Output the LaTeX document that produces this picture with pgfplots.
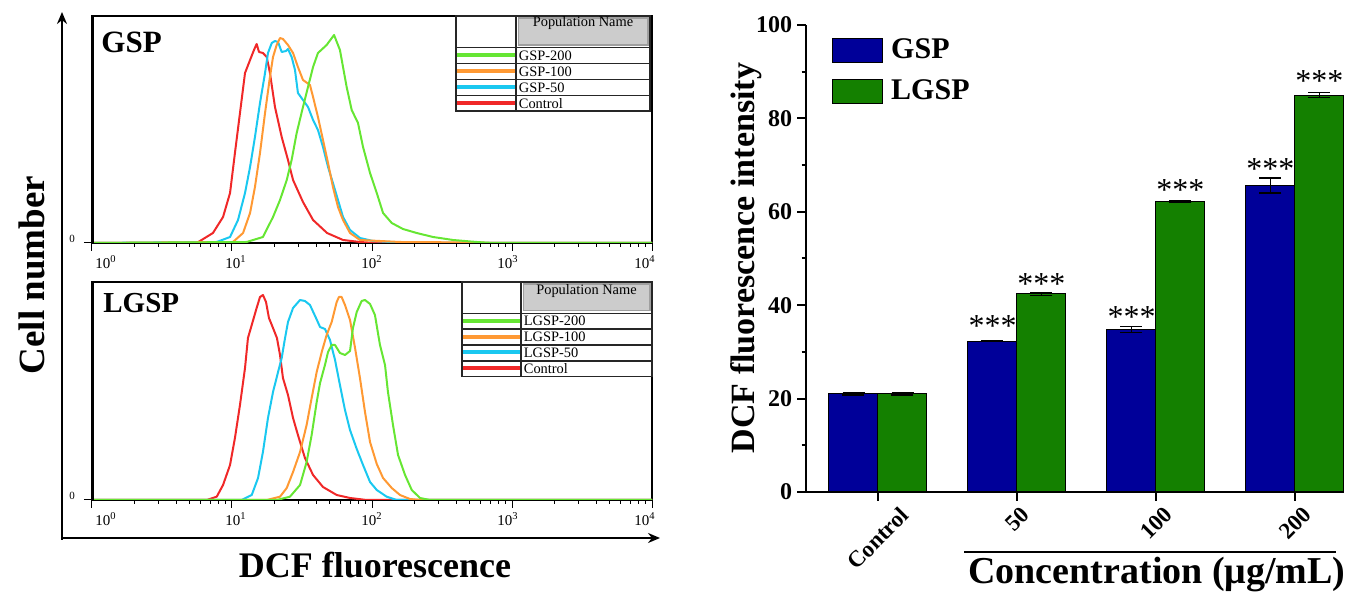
\documentclass[border=0pt]{standalone}
\usepackage{fontspec}
\setmainfont{Liberation Serif}
\usepackage{graphicx}
\usepackage{pgfplots}
\pgfplotsset{compat=1.18}
\usepackage{pgfplotstable}
\usetikzlibrary{arrows.meta}

\definecolor{hgreen}{RGB}{102,230,51}
\definecolor{horange}{RGB}{255,153,51}
\definecolor{hcyan}{RGB}{26,200,240}
\definecolor{hred}{RGB}{240,40,40}
\definecolor{gspblue}{RGB}{0,0,153}
\definecolor{lgspgreen}{RGB}{20,128,0}

% histograms: lx = log10(DCF fluorescence), h = cell count (pixel height of frame)
% --- GSP panel
\pgfplotstableread{
lx h
0 0
0.748 0
0.864 10
0.936 26
0.986 50
1.021 90
1.057 130
1.093 170
1.129 183
1.157 193
1.176 199
1.193 191
1.221 190
1.248 186
1.271 170
1.307 136
1.355 106
1.400 83
1.436 63
1.507 41
1.579 23
1.679 10
1.793 3
1.914 1
2.020 0
4 0
}\gctrl
\pgfplotstableread{
lx h
0 0
0.891 1
0.986 6
1.043 23
1.093 50
1.129 76
1.164 106
1.200 140
1.236 170
1.257 190
1.284 200
1.307 202
1.329 201
1.355 191
1.386 192
1.400 194
1.426 186
1.450 173
1.471 150
1.507 143
1.543 136
1.579 123
1.614 113
1.650 96
1.686 76
1.721 60
1.757 43
1.793 26
1.843 13
1.914 5
2.007 2
2.200 0.5
2.270 0
4 0
}\gfifty
\pgfplotstableread{
lx h
0 0
1.007 1
1.079 10
1.129 30
1.164 56
1.200 90
1.236 130
1.271 166
1.293 186
1.319 198
1.343 205
1.364 204
1.400 198
1.436 190
1.471 176
1.507 163
1.557 158
1.579 146
1.614 126
1.650 103
1.686 80
1.721 56
1.757 36
1.793 23
1.843 10
1.914 3
2.200 1
2.770 0.5
2.840 0
4 0
}\ghundred
\pgfplotstableread{
lx h
0 0
1.105 1
1.221 6
1.293 26
1.343 43
1.391 63
1.426 83
1.462 110
1.507 136
1.543 156
1.579 176
1.614 190
1.676 198
1.729 208
1.771 193
1.819 156
1.855 133
1.900 120
1.936 96
1.986 70
2.034 50
2.079 30
2.141 20
2.221 14
2.319 10
2.436 6
2.579 3
2.721 1.3
2.820 0.3
2.910 0
4 0
}\gtwohundred
% --- LGSP panel
\pgfplotstableread{
lx h
0 0
0.819 0
0.891 3.3
0.936 15
0.986 35
1.021 62
1.057 95
1.093 132
1.114 162
1.141 175
1.176 192
1.200 203
1.221 205
1.243 198
1.264 182
1.293 172
1.321 162
1.343 145
1.364 122
1.400 105
1.436 82
1.471 65
1.521 42
1.579 25
1.650 13
1.748 5
1.843 2
1.962 0
4 0
}\lctrl
\pgfplotstableread{
lx h
0 0
1.069 0
1.141 5
1.186 22
1.221 48
1.257 82
1.293 108
1.329 128
1.355 142
1.379 162
1.400 178
1.436 192
1.486 200
1.521 199
1.557 195
1.600 182
1.629 173
1.664 171
1.700 160
1.736 140
1.771 115
1.807 90
1.843 70
1.891 51
1.936 35
1.986 18
2.034 10
2.105 3.3
2.176 0
4 0
}\lfifty
\pgfplotstableread{
lx h
0 0
1.248 0
1.343 3.3
1.391 12
1.436 28
1.486 48
1.533 75
1.569 102
1.605 128
1.641 148
1.676 165
1.712 178
1.748 198
1.764 203
1.783 203
1.807 195
1.843 180
1.879 152
1.914 122
1.950 88
1.986 58
2.034 36
2.079 22
2.141 12
2.200 5
2.271 1
2.343 0
4 0
}\lhundred
\pgfplotstableread{
lx h
0 0
1.319 0
1.414 3.3
1.486 15
1.533 38
1.569 65
1.605 98
1.629 117
1.664 135
1.686 148
1.712 155
1.736 155
1.771 147
1.807 145
1.843 149
1.864 172
1.891 188
1.926 199
1.950 200
1.986 196
2.021 185
2.057 155
2.093 135
2.114 108
2.150 75
2.186 45
2.236 25
2.284 10
2.343 2
2.414 0
4 0
}\ltwohundred

\pgfplotsset{
  hist/.style={
    scale only axis, width=280pt, anchor=south west,
    xmin=0, xmax=4, ymin=0,
    axis line style={line width=1pt},
    tick align=outside, xtick pos=left, ytick pos=left,
    xtick={0,1,2,3,4},
    xticklabels={\hspace*{14pt}10\textsuperscript{0},\hspace*{4pt}10\textsuperscript{1},10\textsuperscript{2},10\textsuperscript{3}\hspace*{4pt},10\textsuperscript{4}\hspace*{7pt}},
    minor xtick={0.301,0.477,0.602,0.699,0.778,0.845,0.903,0.954,
                 1.301,1.477,1.602,1.699,1.778,1.845,1.903,1.954,
                 2.301,2.477,2.602,2.699,2.778,2.845,2.903,2.954,
                 3.301,3.477,3.602,3.699,3.778,3.845,3.903,3.954},
    ytick={0}, yticklabels={0},
    major tick length=4pt, minor tick length=2pt,
    tick style={black, line width=0.5pt},
    xticklabel style={font=\fontsize{7.5}{8}\selectfont, inner sep=0pt, yshift=-2pt},
    yticklabel style={font=\fontsize{5.5}{6}\selectfont, xshift=-1pt, yshift=2pt},
    every axis plot/.append style={line width=1pt, line join=round},
  }
}

\begin{document}
\begin{tikzpicture}
\path[use as bounding box] (0pt,0pt) rectangle (678pt,-296pt);

% ---------- GSP histogram
\begin{axis}[hist, at={(46pt,-121.5pt)}, height=113.5pt, ymax=227]
\addplot[hred] table {\gctrl};
\addplot[hcyan] table {\gfifty};
\addplot[horange] table {\ghundred};
\addplot[hgreen] table {\gtwohundred};
\end{axis}

% ---------- LGSP histogram
\begin{axis}[hist, at={(46pt,-250pt)}, height=109pt, ymax=218]
\addplot[hred] table {\lctrl};
\addplot[hcyan] table {\lfifty};
\addplot[horange] table {\lhundred};
\addplot[hgreen] table {\ltwohundred};
\end{axis}

% ---------- bar chart
\begin{axis}[
  at={(403pt,-246pt)}, anchor=south west,
  scale only axis, width=269pt, height=233.5pt,
  ybar=0pt, bar width=24.5pt,
  xmin=-0.518, xmax=3.353, ymin=0, ymax=100,
  axis lines*=left, axis line style={line width=1pt},
  tick align=outside, tick style={black, line width=1pt},
  major tick length=4.3pt, minor tick length=2.2pt,
  xtick={0,1,2,3},
  xticklabels={\rotatebox{45}{Control},\rotatebox{45}{50},\rotatebox{45}{100},\rotatebox{45}{200}},
  xticklabel style={anchor=north, inner sep=0pt, yshift=-2.3pt,
                    font=\bfseries\fontsize{11.5}{12}\selectfont},
  ytick={0,20,40,60,80,100}, minor ytick={10,30,50,70,90},
  /pgf/number format/assume math mode=true,
  yticklabel style={font=\bfseries\fontsize{12}{12}\selectfont, inner sep=0pt, xshift=-2.5pt},
  ylabel={DCF fluorescence intensity},
  ylabel style={at={(axis description cs:-0.1115,0.501)}, anchor=center,
                font=\bfseries\fontsize{17}{17}\selectfont},
  error bars/y dir=both, error bars/y explicit,
  error bars/error bar style={black, line width=0.7pt},
  error bars/error mark options={black, rotate=90, mark size=5.5pt, line width=0.7pt},
  legend image code/.code={\draw[#1, draw=black, line width=0.5pt] (0pt,-6.5pt) rectangle (25pt,5.5pt);},
  legend style={at={(0.048,0.972)}, anchor=north west, draw=none, fill=none,
                inner sep=0pt, row sep=8pt, column sep=4pt,
                nodes={inner sep=0pt},
                font=\bfseries\fontsize{15}{15}\selectfont},
  legend cell align=left,
  clip=false,
]
\addplot[fill=gspblue, draw=black, line width=0.5pt]
  coordinates {(0,21.0) +- (0,0.2) (1,32.3) +- (0,0.1) (2,34.8) +- (0,0.6) (3,65.6) +- (0,1.6)};
\addlegendentry{GSP}
\addplot[fill=lgspgreen, draw=black, line width=0.5pt]
  coordinates {(0,21.0) +- (0,0.2) (1,42.4) +- (0,0.3) (2,62.2) +- (0,0.2) (3,85.0) +- (0,0.5)};
\addlegendentry{LGSP}

\node[font=\fontsize{16}{16}\selectfont, inner sep=0pt, yshift=-2pt] at (axis cs:0.824,36.5) {***};
\node[font=\fontsize{16}{16}\selectfont, inner sep=0pt, yshift=-2pt] at (axis cs:1.176,45.4) {***};
\node[font=\fontsize{16}{16}\selectfont, inner sep=0pt, yshift=-2pt] at (axis cs:1.824,38.3) {***};
\node[font=\fontsize{16}{16}\selectfont, inner sep=0pt, yshift=-2pt] at (axis cs:2.176,65.5) {***};
\node[font=\fontsize{16}{16}\selectfont, inner sep=0pt, yshift=-2pt] at (axis cs:2.824,70.0) {***};
\node[font=\fontsize{16}{16}\selectfont, inner sep=0pt, yshift=-2pt] at (axis cs:3.176,88.9) {***};
\end{axis}

% ---------- annotations, in pixel units of the reference
\begin{scope}[x=0.5pt, y=-0.5pt]
  % thicker left borders of the histogram frames
  \draw[line width=1.5pt] (92,16) -- (92,243);
  \draw[line width=1.5pt] (92,282) -- (92,500);
  % outer arrows
  \draw[line width=1.3pt, -{Stealth[length=6pt, width=5pt]}] (62,540) -- (62,12);
  \draw[line width=1.3pt, -{Stealth[length=6pt, width=5pt]}] (61,538) -- (660,538);
  \node[rotate=90, anchor=base, font=\bfseries\fontsize{18.5}{19}\selectfont] at (45,275) {Cell number};
  \node[anchor=base, font=\bfseries\fontsize{18}{18}\selectfont] at (375,578) {DCF fluorescence};
  \node[anchor=base west, inner sep=0pt, font=\bfseries\fontsize{15.5}{16}\selectfont] at (101,53) {GSP};
  \node[anchor=base west, inner sep=0pt, font=\bfseries\fontsize{14.5}{15}\selectfont] at (103,313) {LGSP};

  % population table, GSP panel
  \fill[white] (456,16) rectangle (650,111);
  \filldraw[fill=gray!40, draw=gray!75, line width=0.8pt] (518.5,18) rectangle (648,45);
  \draw[black!85, line width=0.7pt] (456,16) rectangle (650,111);
  \draw[black!85, line width=0.7pt] (516,16) -- (516,111);
  \foreach \yy in {47.3,63.3,79.3,95.3} \draw[black!85, line width=0.7pt] (456,\yy) -- (650,\yy);
  \draw[hgreen, line width=2pt] (457,55.5) -- (515,55.5);
  \draw[horange, line width=2pt] (457,71.5) -- (515,71.5);
  \draw[hcyan, line width=2pt] (457,87.5) -- (515,87.5);
  \draw[hred, line width=2pt] (457,103.3) -- (515,103.3);
  \begin{scope}[every node/.style={font=\fontsize{7.2}{8}\selectfont, inner sep=0pt}]
    \node[anchor=base] at (583,27) {Population Name};
    \node[anchor=base west] at (518.5,60.5) {GSP-200};
    \node[anchor=base west] at (518.5,76.5) {GSP-100};
    \node[anchor=base west] at (518.5,92.5) {GSP-50};
    \node[anchor=base west] at (518.5,108.3) {Control};
  \end{scope}

  % population table, LGSP panel
  \fill[white] (462,282) rectangle (652,376.7);
  \filldraw[fill=gray!40, draw=gray!75, line width=0.8pt] (523.5,284) rectangle (650,310.5);
  \draw[black!85, line width=0.7pt] (462,282) rectangle (652,376.7);
  \draw[black!85, line width=0.7pt] (521,282) -- (521,376.7);
  \foreach \yy in {313.3,329,345,361} \draw[black!85, line width=0.7pt] (462,\yy) -- (652,\yy);
  \draw[hgreen, line width=2pt] (463,321) -- (520,321);
  \draw[horange, line width=2pt] (463,336.8) -- (520,336.8);
  \draw[hcyan, line width=2pt] (463,352.5) -- (520,352.5);
  \draw[hred, line width=2pt] (463,368.5) -- (520,368.5);
  \begin{scope}[every node/.style={font=\fontsize{7.2}{8}\selectfont, inner sep=0pt}]
    \node[anchor=base] at (586.5,294.5) {Population Name};
    \node[anchor=base west] at (523.5,326) {LGSP-200};
    \node[anchor=base west] at (523.5,341.8) {LGSP-100};
    \node[anchor=base west] at (523.5,357.5) {LGSP-50};
    \node[anchor=base west] at (523.5,373.5) {Control};
  \end{scope}

  % concentration bracket and title
  \draw[line width=1pt] (964,552) -- (1336,552);
  \node[anchor=base, inner sep=0pt, font=\bfseries\fontsize{19}{19}\selectfont] at (1157,584) {Concentration (μg/mL)};
\end{scope}
\end{tikzpicture}
\end{document}
